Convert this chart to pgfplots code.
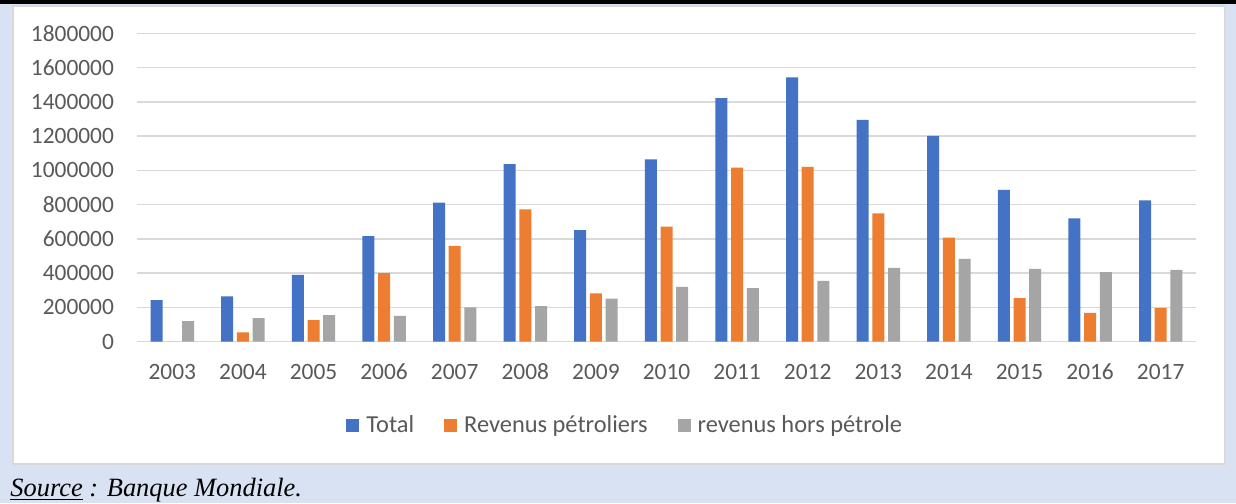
\documentclass[border=0pt]{standalone}
\usepackage{fontspec}
\setmainfont{Carlito}
\newfontfamily\srcfont{Liberation Serif}
\usepackage{pgfplots}
\pgfplotsset{compat=1.18}
\definecolor{bgblue}{HTML}{D9E2F3}
\definecolor{xlblue}{HTML}{4472C4}
\definecolor{xlorange}{HTML}{ED7D31}
\definecolor{xlgray}{HTML}{A5A5A5}
\definecolor{gridgray}{HTML}{D9D9D9}
\definecolor{txtgray}{HTML}{595959}
\pgfplotsset{sq legend/.style={legend image code/.code={\fill[##1] (0pt,-3.25pt) rectangle (6.5pt,3.25pt);}}}

\begin{document}
\begin{tikzpicture}
\useasboundingbox (0,0) rectangle (618pt,251.5pt);
% page background, top rule, white chart panel
\fill[bgblue] (0,0) rectangle (618pt,251.5pt);
\fill[black] (0,249.5pt) rectangle (618pt,251.5pt);
\filldraw[fill=white, draw=gridgray, line width=0.8pt] (6.5pt,19.5pt) rectangle (612.5pt,248.5pt);

\begin{axis}[
  at={(68.5pt,80.65pt)}, anchor=south west,
  scale only axis,
  width=529.5pt, height=154.2pt,
  ybar=1.85pt, bar width=6pt,
  xmin=-0.5, xmax=14.5,
  ymin=0, ymax=1800000,
  ytick={0,200000,...,1800000},
  xtick=data,
  xticklabels={2003,2004,2005,2006,2007,2008,2009,2010,2011,2012,2013,2014,2015,2016,2017},
  scaled y ticks=false,
  /pgf/number format/fixed,
  /pgf/number format/1000 sep={},
  /pgf/number format/assume math mode=true,
  ymajorgrids,
  grid style={gridgray, line width=0.7pt},
  axis line style={draw=none},
  major tick length=0pt,
  tick label style={font=\fontsize{11.7}{14}\selectfont, text=txtgray},
  xticklabel style={yshift=-8pt, text height=7.6pt, text depth=0pt},
  yticklabel style={xshift=-8pt},
  legend columns=-1,
  legend style={at={(0.462,-0.273)}, anchor=center, draw=none, fill=none,
    font=\fontsize{12.2}{14}\selectfont, text=txtgray,
    column sep=0pt,
    /tikz/every odd column/.append style={column sep=1.5pt},
    /tikz/every even column/.append style={column sep=13pt}},
]
\addplot[fill=xlblue, draw=none, sq legend] coordinates {
 (0,243000) (1,264000) (2,390000) (3,616000) (4,812000) (5,1037000) (6,651000) (7,1064000)
 (8,1422000) (9,1543000) (10,1295000) (11,1202000) (12,886000) (13,720000) (14,825000)};
\addlegendentry{Total}
\addplot[fill=xlorange, draw=none, sq legend] coordinates {
 (0,0) (1,54000) (2,126000) (3,400000) (4,559000) (5,773000) (6,282000) (7,672000)
 (8,1016000) (9,1020000) (10,749000) (11,607000) (12,254000) (13,168000) (14,197000)};
\addlegendentry{Revenus pétroliers}
\addplot[fill=xlgray, draw=none, sq legend] coordinates {
 (0,120000) (1,138000) (2,155000) (3,151000) (4,200000) (5,208000) (6,252000) (7,320000)
 (8,312000) (9,355000) (10,431000) (11,484000) (12,425000) (13,406000) (14,419000)};
\addlegendentry{revenus hors pétrole}
\end{axis}

\node[anchor=base west, inner sep=0pt, font=\srcfont\itshape\fontsize{13.2}{15}\selectfont]
  at (5pt,3.4pt) {\underline{Source} : Banque Mondiale.};
\end{tikzpicture}
\end{document}
